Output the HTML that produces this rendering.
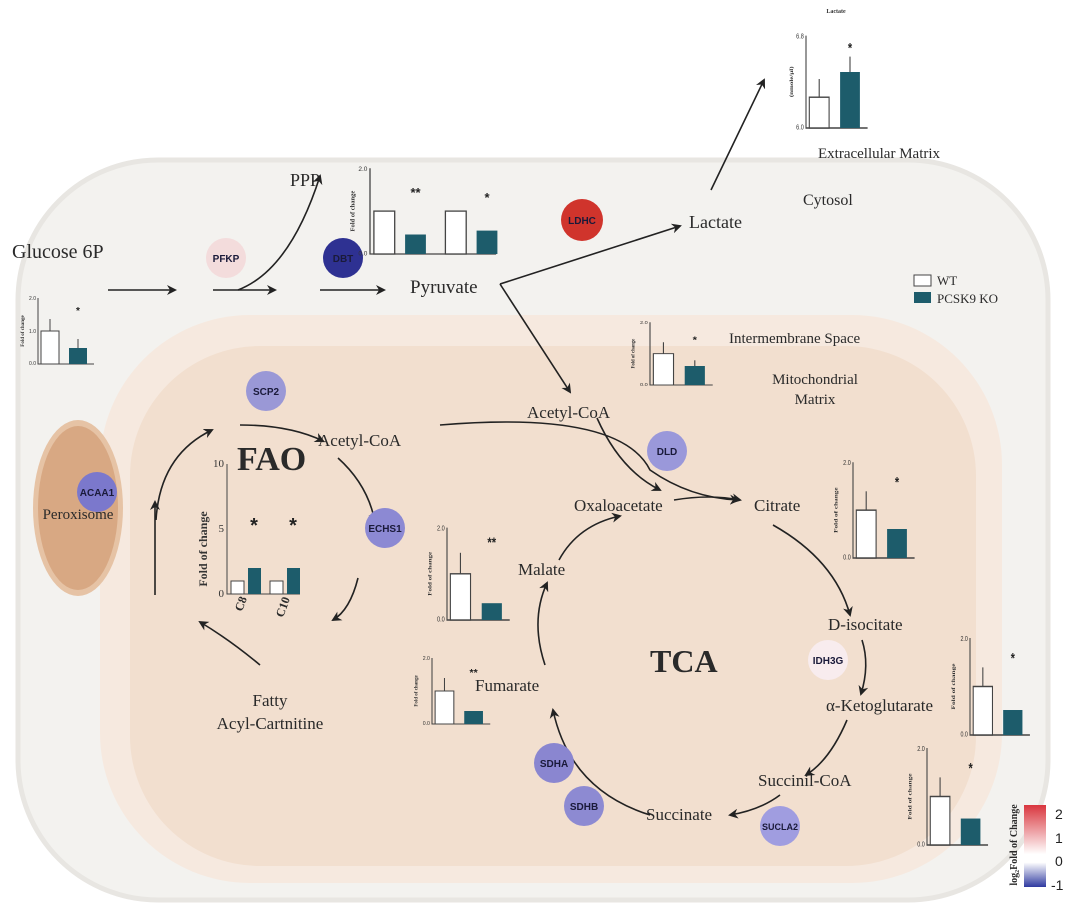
<!DOCTYPE html>
<html><head><meta charset="utf-8"><style>
html,body{margin:0;padding:0;background:#fff;}
svg{display:block;}
.t{font-family:"Liberation Serif",serif;fill:#2a2a2a;}
.e{font-family:"Liberation Sans",sans-serif;font-weight:bold;font-size:10px;text-anchor:middle;fill:#1a1a3a;}
.ax{stroke:#444;stroke-width:1;fill:none;}
.tk{font-family:"Liberation Sans",sans-serif;font-size:5px;fill:#333;text-anchor:end;}
.yl{font-family:"Liberation Serif",serif;font-size:5px;font-weight:bold;fill:#333;text-anchor:middle;}
.ko{fill:#1d5c6b;}
.wt{fill:#fff;stroke:#444;stroke-width:1;}
.st{font-family:"Liberation Sans",sans-serif;font-size:10px;font-weight:bold;fill:#222;text-anchor:middle;}
.ar{stroke:#222;stroke-width:1.6;fill:none;marker-end:url(#ah);}
</style></head><body>
<svg width="1080" height="916" viewBox="0 0 1080 916" xmlns="http://www.w3.org/2000/svg">
<defs>
<marker id="ah" markerWidth="10" markerHeight="10" refX="8" refY="5" orient="auto" markerUnits="userSpaceOnUse"><path d="M0,0 L10,5 L0,10 L3,5 z" fill="#222"/></marker>
<linearGradient id="cb" x1="0" y1="0" x2="0" y2="1"><stop offset="0" stop-color="#d9363e"/><stop offset="0.6" stop-color="#fff"/><stop offset="0.7" stop-color="#fff"/><stop offset="1" stop-color="#2f3aa0"/></linearGradient>
</defs>
<!-- cell -->
<rect x="18" y="160" width="1030" height="740" rx="140" fill="#f3f2ef" stroke="#e8e6e2" stroke-width="5"/>
<rect x="100" y="315" width="902" height="568" rx="150" fill="#f6e9df"/>
<rect x="130" y="346" width="846" height="520" rx="130" fill="#f2dfcf"/>
<!-- peroxisome -->
<ellipse cx="78" cy="508" rx="45" ry="88" fill="#e6c3a5"/>
<ellipse cx="78" cy="508" rx="40" ry="82" fill="#d8a883"/>
<text class="t" x="78" y="519" font-size="15" text-anchor="middle" fill="#5a4535">Peroxisome</text>

<!-- labels -->
<text class="t" x="12" y="258" font-size="20">Glucose 6P</text>
<text class="t" x="290" y="186" font-size="18">PPP</text>
<text class="t" x="410" y="293" font-size="19">Pyruvate</text>
<text class="t" x="689" y="228" font-size="18">Lactate</text>
<text class="t" x="803" y="205" font-size="16">Cytosol</text>
<text class="t" x="818" y="158" font-size="15">Extracellular Matrix</text>
<text class="t" x="729" y="343" font-size="15">Intermembrane Space</text>
<text class="t" x="815" y="384" font-size="15" text-anchor="middle">Mitochondrial</text>
<text class="t" x="815" y="404" font-size="15" text-anchor="middle">Matrix</text>
<text class="t" x="527" y="418" font-size="17">Acetyl-CoA</text>
<text class="t" x="318" y="446" font-size="17">Acetyl-CoA</text>
<text class="t" x="237" y="470" font-size="34" font-weight="bold">FAO</text>
<text class="t" x="574" y="511" font-size="17">Oxaloacetate</text>
<text class="t" x="754" y="511" font-size="17">Citrate</text>
<text class="t" x="518" y="575" font-size="17">Malate</text>
<text class="t" x="828" y="630" font-size="17">D-isocitate</text>
<text class="t" x="650" y="672" font-size="32" font-weight="bold">TCA</text>
<text class="t" x="826" y="711" font-size="17">α-Ketoglutarate</text>
<text class="t" x="475" y="691" font-size="17">Fumarate</text>
<text class="t" x="758" y="786" font-size="17">Succinil-CoA</text>
<text class="t" x="646" y="820" font-size="17">Succinate</text>
<text class="t" x="270" y="706" font-size="17" text-anchor="middle">Fatty</text>
<text class="t" x="270" y="729" font-size="17" text-anchor="middle">Acyl-Cartnitine</text>

<!-- arrows -->
<line class="ar" x1="108" y1="290" x2="175" y2="290"/>
<line class="ar" x1="213" y1="290" x2="275" y2="290"/>
<path class="ar" d="M238,290 Q290,270 320,176"/>
<line class="ar" x1="320" y1="290" x2="384" y2="290"/>
<polyline points="500,284 680,226" class="ar"/>
<path class="ar" d="M500,284 L570,392"/>
<line class="ar" x1="711" y1="190" x2="764" y2="80"/>
<path class="ar" d="M440,425 Q620,410 650,470 Q690,498 738,500"/>
<path class="ar" d="M597,418 Q620,470 660,490"/>
<path class="ar" d="M674,500 Q710,494 740,500"/>
<!-- TCA -->
<path class="ar" d="M773,525 Q835,560 850,615"/>
<path class="ar" d="M862,640 Q870,665 861,694"/>
<path class="ar" d="M847,720 Q830,760 806,775"/>
<path class="ar" d="M780,795 Q760,810 730,815"/>
<path class="ar" d="M650,815 Q570,790 553,710"/>
<path class="ar" d="M545,665 Q530,620 547,583"/>
<path class="ar" d="M559,560 Q578,525 620,516"/>
<!-- FAO -->
<path class="ar" d="M240,425 Q290,425 323,441"/>
<path class="ar" d="M338,458 Q368,485 375,522"/>
<path class="ar" d="M358,578 Q350,610 333,620"/>
<path class="ar" d="M260,665 Q230,640 200,622"/>
<path class="ar" d="M156,520 Q160,455 212,430"/>
<path class="ar" d="M155,595 L155,502" />

<!-- enzymes -->
<circle cx="226" cy="258" r="20" fill="#f3dcdc"/><text class="e" x="226" y="262">PFKP</text>
<circle cx="343" cy="258" r="20" fill="#2e3192"/><text class="e" x="343" y="262">DBT</text>
<circle cx="582" cy="220" r="21" fill="#d0342c"/><text class="e" x="582" y="224">LDHC</text>
<circle cx="266" cy="391" r="20" fill="#9a98d6"/><text class="e" x="266" y="395">SCP2</text>
<circle cx="97" cy="492" r="20" fill="#7b78cc"/><text class="e" x="97" y="496">ACAA1</text>
<circle cx="385" cy="528" r="20" fill="#8c89d3"/><text class="e" x="385" y="532">ECHS1</text>
<circle cx="667" cy="451" r="20" fill="#9a98da"/><text class="e" x="667" y="455">DLD</text>
<circle cx="828" cy="660" r="20" fill="#f8ecee"/><text class="e" x="828" y="664">IDH3G</text>
<circle cx="554" cy="763" r="20" fill="#8a86d0"/><text class="e" x="554" y="767">SDHA</text>
<circle cx="584" cy="806" r="20" fill="#8d8ad2"/><text class="e" x="584" y="810">SDHB</text>
<circle cx="780" cy="826" r="20" fill="#a09de0"/><text class="e" x="780" y="830" style="font-size:9px">SUCLA2</text>

<!-- standard charts -->
<g transform="translate(38,364) scale(1)">
<path class="ax" d="M0,-66 V0 H56"/><rect class="wt" x="3" y="-33" width="18" height="33"/><rect class="ko" x="31" y="-16" width="18" height="16"/>
<line x1="12" y1="-45" x2="12" y2="-33" stroke="#444"/><line x1="40" y1="-25" x2="40" y2="-16" stroke="#444"/>
<text class="st" x="40" y="-50">*</text><text class="tk" x="-2" y="-64">2.0</text><text class="tk" x="-2" y="-31">1.0</text><text class="tk" x="-2" y="1">0.0</text>
<text class="yl" transform="translate(-14,-33) rotate(-90)">Fold of change</text></g>

<g transform="translate(650,385) scale(1.12,0.95)">
<path class="ax" d="M0,-66 V0 H56"/><rect class="wt" x="3" y="-33" width="18" height="33"/><rect class="ko" x="31" y="-20" width="18" height="20"/>
<line x1="12" y1="-45" x2="12" y2="-33" stroke="#444"/><line x1="40" y1="-26" x2="40" y2="-20" stroke="#444"/>
<text class="st" x="40" y="-44">*</text><text class="tk" x="-2" y="-64">2.0</text><text class="tk" x="-2" y="1">0.0</text>
<text class="yl" transform="translate(-14,-33) rotate(-90)">Fold of change</text></g>

<g transform="translate(447,620) scale(1.12,1.4)">
<path class="ax" d="M0,-66 V0 H56"/><rect class="wt" x="3" y="-33" width="18" height="33"/><rect class="ko" x="31" y="-12" width="18" height="12"/>
<line x1="12" y1="-48" x2="12" y2="-33" stroke="#444"/>
<text class="st" x="40" y="-52">**</text><text class="tk" x="-2" y="-64">2.0</text><text class="tk" x="-2" y="1">0.0</text>
<text class="yl" transform="translate(-14,-33) rotate(-90)">Fold of change</text></g>

<g transform="translate(432,724) scale(1.04,1)">
<path class="ax" d="M0,-66 V0 H56"/><rect class="wt" x="3" y="-33" width="18" height="33"/><rect class="ko" x="31" y="-13" width="18" height="13"/>
<line x1="12" y1="-46" x2="12" y2="-33" stroke="#444"/>
<text class="st" x="40" y="-48">**</text><text class="tk" x="-2" y="-64">2.0</text><text class="tk" x="-2" y="1">0.0</text>
<text class="yl" transform="translate(-14,-33) rotate(-90)">Fold of change</text></g>

<g transform="translate(853,558) scale(1.1,1.45)">
<path class="ax" d="M0,-66 V0 H56"/><rect class="wt" x="3" y="-33" width="18" height="33"/><rect class="ko" x="31" y="-20" width="18" height="20"/>
<line x1="12" y1="-46" x2="12" y2="-33" stroke="#444"/>
<text class="st" x="40" y="-49">*</text><text class="tk" x="-2" y="-64">2.0</text><text class="tk" x="-2" y="1">0.0</text>
<text class="yl" transform="translate(-14,-33) rotate(-90)">Fold of change</text></g>

<g transform="translate(970,735) scale(1.07,1.47)">
<path class="ax" d="M0,-66 V0 H56"/><rect class="wt" x="3" y="-33" width="18" height="33"/><rect class="ko" x="31" y="-17" width="18" height="17"/>
<line x1="12" y1="-46" x2="12" y2="-33" stroke="#444"/>
<text class="st" x="40" y="-49">*</text><text class="tk" x="-2" y="-64">2.0</text><text class="tk" x="-2" y="1">0.0</text>
<text class="yl" transform="translate(-14,-33) rotate(-90)">Fold of change</text></g>

<g transform="translate(927,845) scale(1.09,1.47)">
<path class="ax" d="M0,-66 V0 H56"/><rect class="wt" x="3" y="-33" width="18" height="33"/><rect class="ko" x="31" y="-18" width="18" height="18"/>
<line x1="12" y1="-46" x2="12" y2="-33" stroke="#444"/>
<text class="st" x="40" y="-49">*</text><text class="tk" x="-2" y="-64">2.0</text><text class="tk" x="-2" y="1">0.0</text>
<text class="yl" transform="translate(-14,-33) rotate(-90)">Fold of change</text></g>

<!-- PPP chart -->
<g transform="translate(370,254) scale(1.3)">
<path class="ax" d="M0,-66 V0 H97"/>
<rect class="wt" x="3" y="-33" width="16" height="33"/><rect class="ko" x="27" y="-15" width="16" height="15"/>
<rect class="wt" x="58" y="-33" width="16" height="33"/><rect class="ko" x="82" y="-18" width="16" height="18"/>
<text class="st" x="35" y="-44">**</text><text class="st" x="90" y="-40">*</text>
<text class="tk" x="-2" y="-64">2.0</text><text class="tk" x="-2" y="1">0.0</text>
<text class="yl" transform="translate(-12,-33) rotate(-90)">Fold of change</text></g>

<!-- FAO chart -->
<g transform="translate(227,594)">
<path class="ax" d="M0,-130 V0 H73"/>
<rect class="wt" x="4" y="-13" width="13" height="13"/><rect class="ko" x="21" y="-26" width="13" height="26"/>
<rect class="wt" x="43" y="-13" width="13" height="13"/><rect class="ko" x="60" y="-26" width="13" height="26"/>
<text class="st" x="27" y="-62" style="font-size:20px">*</text><text class="st" x="66" y="-62" style="font-size:20px">*</text>
<text class="tk" x="-3" y="-127" style="font-size:11px;font-family:'Liberation Serif'">10</text>
<text class="tk" x="-3" y="-62" style="font-size:11px;font-family:'Liberation Serif'">5</text>
<text class="tk" x="-3" y="3" style="font-size:11px;font-family:'Liberation Serif'">0</text>
<text class="yl" style="font-size:12px" transform="translate(-20,-45) rotate(-90)">Fold of change</text>
<text class="t" font-size="12" font-weight="bold" transform="translate(15,18) rotate(-70)">C8</text>
<text class="t" font-size="12" font-weight="bold" transform="translate(56,24) rotate(-70)">C10</text></g>

<!-- Lactate chart -->
<text x="836" y="13" font-family="Liberation Serif" font-size="6" font-weight="bold" fill="#333" text-anchor="middle">Lactate</text>
<g transform="translate(806,128) scale(1.1,1.4)">
<path class="ax" d="M0,-66 V0 H56"/><rect class="wt" x="3" y="-22" width="18" height="22"/><rect class="ko" x="31" y="-40" width="18" height="40"/>
<line x1="12" y1="-35" x2="12" y2="-22" stroke="#444"/><line x1="40" y1="-51" x2="40" y2="-40" stroke="#444"/>
<text class="st" x="40" y="-54">*</text><text class="tk" x="-2" y="-64">6.8</text><text class="tk" x="-2" y="1">6.0</text>
<text class="yl" transform="translate(-12,-33) rotate(-90)">(nmole/μl)</text></g>

<!-- legend -->
<rect x="914" y="275" width="17" height="11" fill="#fff" stroke="#444"/>
<text class="t" x="937" y="285" font-size="13">WT</text>
<rect x="914" y="292" width="17" height="11" class="ko"/>
<text class="t" x="937" y="303" font-size="13">PCSK9 KO</text>

<!-- color bar -->
<rect x="1024" y="805" width="22" height="82" fill="url(#cb)"/>
<text x="1055" y="819" font-family="Liberation Sans" font-size="14" fill="#222">2</text>
<text x="1055" y="843" font-family="Liberation Sans" font-size="14" fill="#222">1</text>
<text x="1055" y="866" font-family="Liberation Sans" font-size="14" fill="#222">0</text>
<text x="1051" y="890" font-family="Liberation Sans" font-size="14" fill="#222">-1</text>
<text class="t" font-size="10" font-weight="bold" text-anchor="middle" transform="translate(1017,845) rotate(-90)">log₂Fold of Change</text>
</svg>
</body></html>
